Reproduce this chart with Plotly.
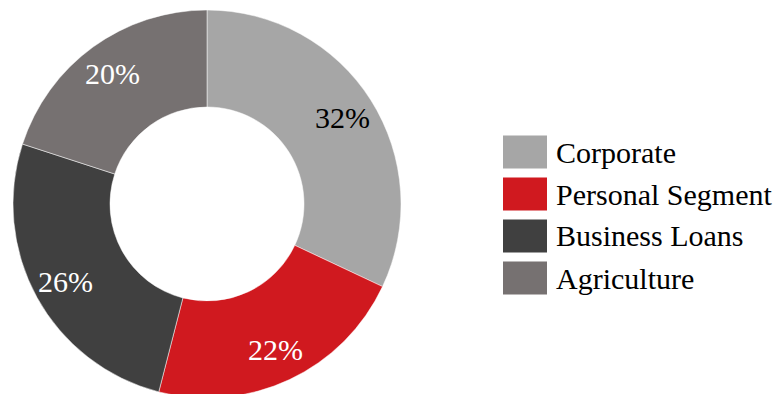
import math
import plotly.graph_objects as go

categories = ["Corporate", "Personal Segment", "Business Loans", "Agriculture"]
values = [32, 22, 26, 20]
colors = ["#A6A6A6", "#D0191F", "#404040", "#767171"]
text_colors = ["#000000", "#FFFFFF", "#FFFFFF", "#FFFFFF"]

W, H = 782, 394
OFF = 8  # page body margin offset
FONT = "Liberation Serif"

# donut geometry in screen pixels
CX, CY, R = 207, 204, 194

def px(x):
    return (x - OFF) / W

def py(y):
    return 1 - (y - OFF) / H

fig = go.Figure()
fig.add_trace(go.Pie(
    labels=categories,
    values=values,
    marker=dict(colors=colors, line=dict(color="#FFFFFF", width=0.5)),
    hole=0.5,
    sort=False,
    direction="clockwise",
    rotation=0,
    textinfo="none",
    domain=dict(x=[px(CX - R), px(CX + R)], y=[py(CY + R), py(CY - R)]),
    showlegend=False,
    hoverinfo="label+percent",
))

# percentage labels placed along each slice's mid-angle
total = sum(values)
cum = 0
for v, tc in zip(values, text_colors):
    mid = (cum + v / 2) / total * 2 * math.pi
    cum += v
    r = 0.83 * R
    x = CX + r * math.sin(mid)
    y = CY - r * math.cos(mid)
    fig.add_annotation(x=px(x), y=py(y), xref="paper", yref="paper",
                       text=f"{round(v / total * 100)}%", showarrow=False,
                       xanchor="center", yanchor="middle",
                       font=dict(family=FONT, size=30, color=tc))

# Manual legend with large square swatches
x0, x1 = 503, 547
row_centers = [152, 194, 236, 278]
for cat, col, yc in zip(categories, colors, row_centers):
    fig.add_shape(type="rect", xref="paper", yref="paper",
                  x0=px(x0), x1=px(x1),
                  y0=py(yc + 16.5), y1=py(yc - 16.5),
                  fillcolor=col, line=dict(width=0))
    fig.add_annotation(x=px(554), y=py(yc), xref="paper", yref="paper",
                       text=cat, showarrow=False, xanchor="left", yanchor="middle",
                       font=dict(family=FONT, size=30, color="#000000"))

fig.update_layout(
    width=W, height=H,
    margin=dict(l=0, r=0, t=0, b=0),
    paper_bgcolor="#FFFFFF",
    plot_bgcolor="#FFFFFF",
    font=dict(family=FONT),
)

fig.write_html("out.html")
